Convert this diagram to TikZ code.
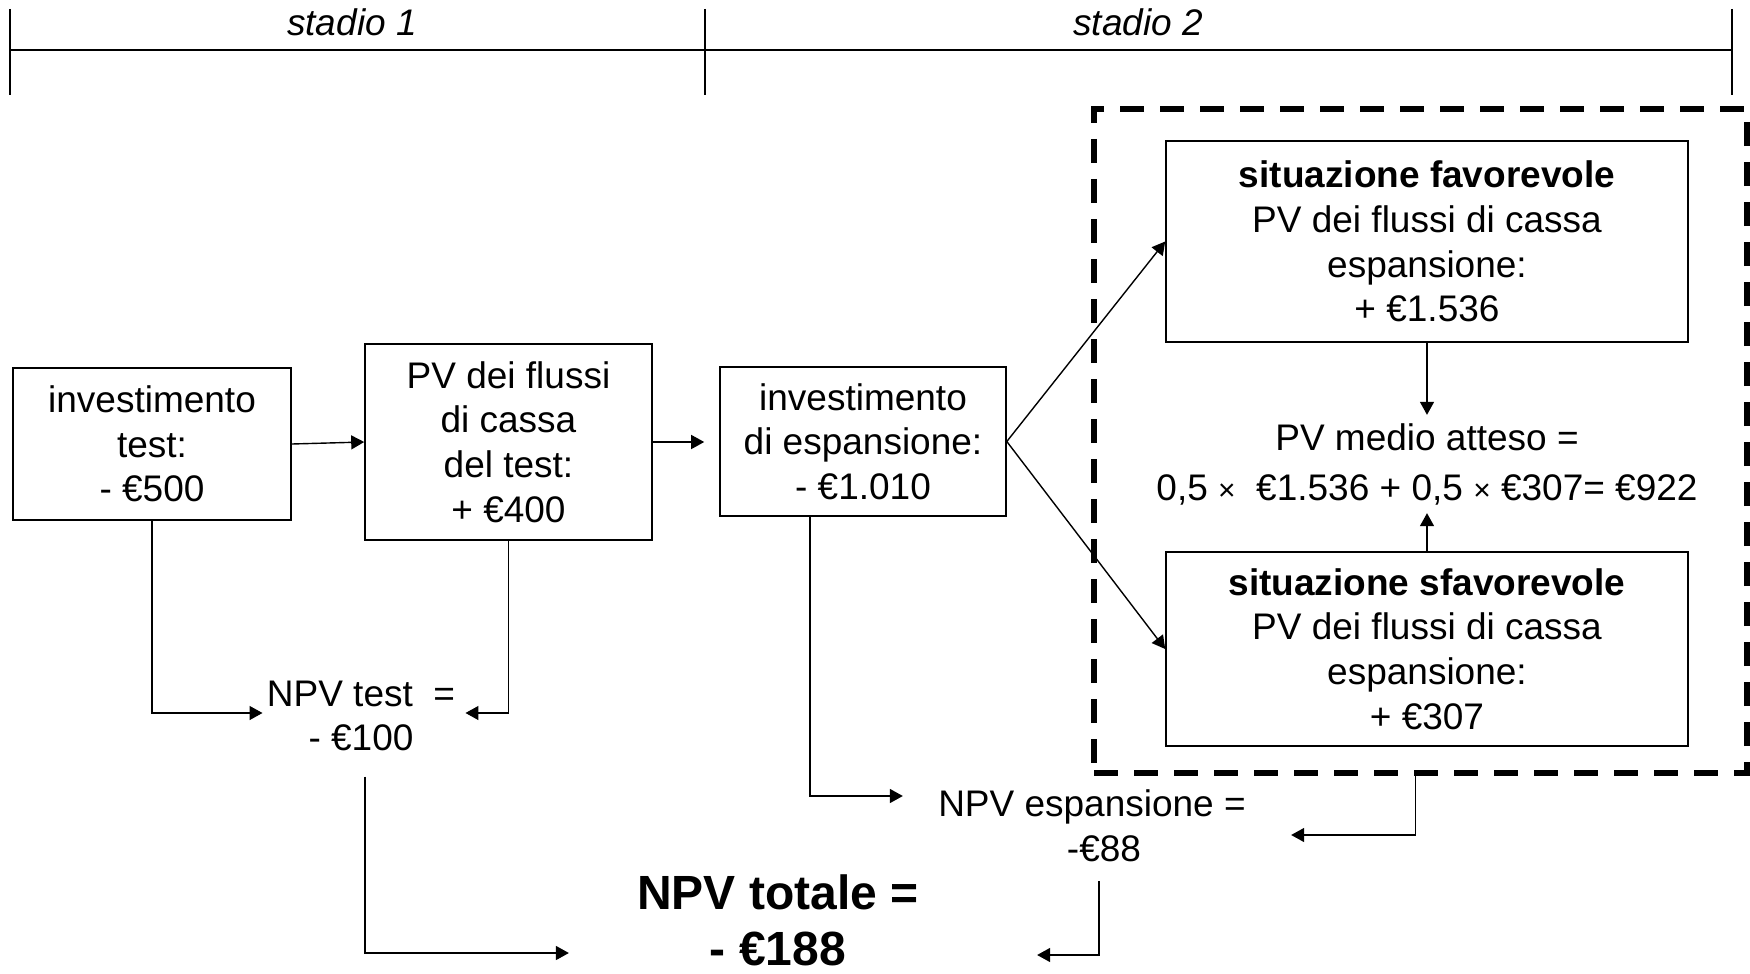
\documentclass[tikz,border=0pt]{standalone}
\usepackage{fontspec}
\setmainfont{Liberation Sans}
\usetikzlibrary{arrows.meta,calc}
\newcommand\mainfs{\fontsize{18.5pt}{22.3pt}\selectfont}
\newcommand\bigfs{\fontsize{24pt}{28pt}\selectfont\bfseries}
\newcommand\tms{{\fontsize{15pt}{15pt}\selectfont ×}}
\begin{document}
\begin{tikzpicture}[x=0.5pt,y=-0.5pt,
  box/.style={draw, line width=0.8pt, align=center, inner sep=0pt, font=\mainfs},
  lbl/.style={align=center, inner sep=2pt, font=\mainfs},
  arr/.style={-{Triangle[length=6.5pt,width=7pt]}, line width=0.7pt},
  tick/.style={line width=0.6pt},
  stage/.style={font=\mainfs\itshape, inner sep=0pt}]
\useasboundingbox (0,0) rectangle (1750,974);

% timeline
\coordinate (tl) at (10,50);
\coordinate (tm) at (705,50);
\coordinate (tr) at (1732,50);
\draw[line width=1pt] (tl) -- (tr);
\foreach \c in {tl,tm,tr} \draw[tick] ($(\c)+(0,-41)$) -- ($(\c)+(0,45)$);
\node[stage] (s1) at (352,22) {stadio 1};
\node[stage] (s2) at (1138,22) {stadio 2};

% dashed frame
\node[draw, line width=2.8pt, dash pattern=on 12pt off 8pt, minimum width=326.5pt, minimum height=332pt, inner sep=0pt] (dbox) at (1420.5,441) {};

% boxes
\node[box, minimum width=139pt, minimum height=76pt] (b1) at (152,444) {investimento\\test:\\- €500};
\node[box, minimum width=143.5pt, minimum height=98pt] (b2) at (508.5,442) {PV dei flussi\\di cassa\\del test:\\+ €400};
\node[box, minimum width=143pt, minimum height=74.5pt] (b3) at (863,441.5) {investimento\\di espansione:\\- €1.010};
\node[box, minimum width=261pt, minimum height=100.5pt] (fav) at (1427,241.5) {\textbf{situazione favorevole}\\PV dei flussi di cassa\\espansione:\\+ €1.536};
\node[box, minimum width=261pt, minimum height=97pt] (sfav) at (1427,649) {\textbf{situazione sfavorevole}\\PV dei flussi di cassa\\espansione:\\+ €307};

% labels
\node[lbl, font=\fontsize{18.5pt}{25pt}\selectfont, inner sep=4pt] (pvm) at (1427,464) {PV medio atteso =\\0,5 \tms\ \ €1.536 + 0,5 \tms\ €307= €922};
\node[lbl] (npvt) at (361,716) {NPV test\ \ =\\- €100};
\node[lbl] (npve) at (1092,826) {NPV espansione =\\\hspace*{12pt}-€88};
\node[lbl, font=\bigfs, inner sep=0pt] (npvtot) at (778,920) {NPV totale =\\- €188};

% connectors
\draw[arr] (b1.east) -- (b2.west);
\draw[arr, shorten >=7.5pt] (b2.east) -- (b2.east -| b3.west);
\draw[arr] (b3.east) -- (fav.west);
\draw[arr] (b3.east) -- (sfav.west);
\draw[arr] (b1.south) |- ($(npvt.west)+(0,-3)$);
\draw[arr] (b2.south) |- ($(npvt.east)+(6,-3)$);
\draw[arr] (fav.south) -- (pvm.north);
\draw[arr] (sfav.north) -- (pvm.south);
\draw[arr] ($(b3.south)+(-53,0)$) |- ($(npve.west)+(-31,-30)$);
\draw[arr] ($(dbox.south)+(-5,0)$) |- ($(npve.east)+(41,9)$);
\draw[arr] ($(npvt.south)+(4,21)$) |- ($(npvtot.west)+(-68,33)$);
\draw[arr] ($(npve.south)+(7,15)$) |- ($(npvtot.east)+(118,35)$);
\end{tikzpicture}
\end{document}
